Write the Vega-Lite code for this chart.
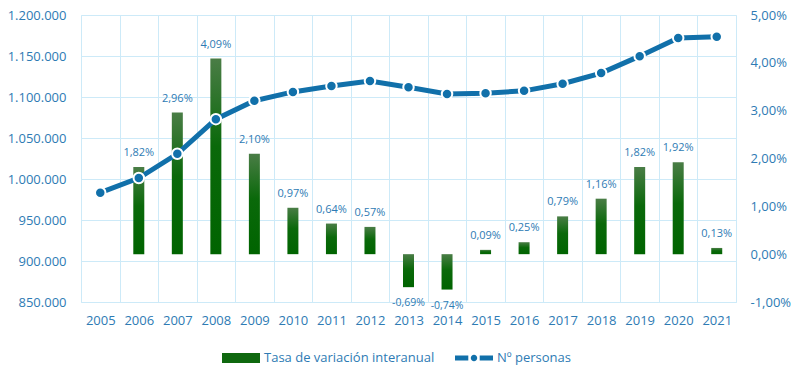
{
  "$schema": "https://vega.github.io/schema/vega-lite/v6.json",
  "width": 655,
  "height": 287,
  "autosize": {"type": "none"},
  "padding": {"left": 81, "top": 15, "right": 60, "bottom": 65},
  "config": {
    "locale": {"number": {"decimal": ",", "thousands": ".", "grouping": [3], "currency": ["", " €"]}},
    "view": {"stroke": null},
    "font": "Open Sans",
    "axis": {
      "labelFont": "Open Sans",
      "labelFontSize": 13,
      "labelColor": "#2e7bb4",
      "gridColor": "#cdeaf8",
      "gridWidth": 1,
      "domainColor": "#cdeaf8",
      "domainWidth": 1,
      "ticks": false,
      "title": null
    },
    "text": {"font": "Open Sans", "fontSize": 11, "color": "#2e7bb4"}
  },
  "data": {
    "values": [
      {"year": "2005", "personas": 983300, "tasa": null},
      {"year": "2006", "personas": 1001200, "tasa": 0.0182},
      {"year": "2007", "personas": 1030800, "tasa": 0.0296},
      {"year": "2008", "personas": 1073000, "tasa": 0.0409},
      {"year": "2009", "personas": 1095500, "tasa": 0.0210},
      {"year": "2010", "personas": 1106200, "tasa": 0.0097},
      {"year": "2011", "personas": 1113300, "tasa": 0.0064},
      {"year": "2012", "personas": 1119600, "tasa": 0.0057},
      {"year": "2013", "personas": 1111900, "tasa": -0.0069},
      {"year": "2014", "personas": 1103700, "tasa": -0.0074},
      {"year": "2015", "personas": 1104700, "tasa": 0.0009},
      {"year": "2016", "personas": 1107500, "tasa": 0.0025},
      {"year": "2017", "personas": 1116200, "tasa": 0.0079},
      {"year": "2018", "personas": 1129200, "tasa": 0.0116},
      {"year": "2019", "personas": 1149800, "tasa": 0.0182},
      {"year": "2020", "personas": 1171900, "tasa": 0.0192},
      {"year": "2021", "personas": 1173400, "tasa": 0.0013}
    ]
  },
  "encoding": {
    "x": {
      "field": "year",
      "type": "ordinal",
      "scale": {"paddingInner": 0, "paddingOuter": 0},
      "axis": {
        "title": null,
        "labelAngle": 0,
        "tickBand": "extent",
        "grid": true,
        "domain": true,
        "labelPadding": 12
      }
    }
  },
  "layer": [
    {
      "transform": [
        {"filter": "datum.tasa != null"},
        {"calculate": "replace(format(datum.tasa, '.2%'), '\u2212', '-')", "as": "etiqueta"}
      ],
      "encoding": {
        "y": {
          "field": "tasa",
          "type": "quantitative",
          "scale": {"domain": [-0.01, 0.05], "nice": false, "zero": true},
          "axis": {
            "orient": "right",
            "labelExpr": "replace(format(datum.value, '.2%'), '\u2212', '-')",
            "values": [-0.01, 0, 0.01, 0.02, 0.03, 0.04, 0.05],
            "grid": false,
            "domain": true,
            "labelPadding": 14,
            "title": null
          }
        }
      },
      "layer": [
        {
          "mark": {
            "type": "bar",
            "size": 11,
            "color": {
              "gradient": "linear",
              "x1": 0, "y1": 0, "x2": 0, "y2": 1,
              "stops": [
                {"offset": 0, "color": "#4a7d46"},
                {"offset": 0.45, "color": "#0a690a"},
                {"offset": 1, "color": "#006400"}
              ]
            }
          }
        },
        {
          "transform": [{"filter": "datum.tasa >= 0"}],
          "mark": {"type": "text", "baseline": "bottom", "dy": -9},
          "encoding": {"text": {"field": "etiqueta", "type": "nominal"}}
        },
        {
          "transform": [{"filter": "datum.tasa < 0"}],
          "mark": {"type": "text", "baseline": "top", "dy": 11, "fontSize": 10.5},
          "encoding": {"text": {"field": "etiqueta", "type": "nominal"}}
        }
      ]
    },
    {
      "layer": [
        {
          "mark": {
            "type": "line",
            "color": "#1170aa",
            "strokeWidth": 5,
            "point": {"filled": true, "size": 110, "color": "#1170aa", "stroke": "white", "strokeWidth": 2}
          },
          "encoding": {
            "y": {
              "field": "personas",
              "type": "quantitative",
              "scale": {"domain": [850000, 1200000], "nice": false, "zero": false},
              "axis": {
                "orient": "left",
                "format": ",.0f",
                "values": [850000, 900000, 950000, 1000000, 1050000, 1100000, 1150000, 1200000],
                "grid": true,
                "domain": true,
                "labelPadding": 15,
                "title": null
              }
            }
          }
        },
        {
          "data": {
            "values": [
              {"year": "2005", "serie": "Tasa de variación interanual"},
              {"year": "2005", "serie": "Nº personas"}
            ]
          },
          "mark": {"type": "point", "filled": true, "clip": true, "strokeWidth": 0, "opacity": 1},
          "encoding": {
            "y": {"datum": 0},
            "color": {
              "field": "serie",
              "type": "nominal",
              "scale": {
                "domain": ["Tasa de variación interanual", "Nº personas"],
                "range": ["#0f680f", "#1170aa"]
              },
              "legend": {
                "title": null,
                "orient": "none",
                "legendX": 141,
                "legendY": 324,
                "direction": "horizontal",
                "symbolSize": 1444,
                "symbolStrokeWidth": 0,
                "symbolOpacity": 1,
                "labelFont": "Open Sans",
                "labelFontSize": 13,
                "labelColor": "#2e7bb4",
                "labelOffset": 4,
                "labelLimit": 0,
                "columnPadding": 20,
                "padding": 0
              }
            },
            "shape": {
              "field": "serie",
              "type": "nominal",
              "scale": {
                "domain": ["Tasa de variación interanual", "Nº personas"],
                "range": [
                  "M-1,-0.26H1V0.26H-1Z",
                  "M-1,-0.13H-0.3V0.13H-1Z M0.3,-0.13H1V0.13H0.3Z M0.17,0A0.17,0.17 0 1,1 -0.17,0A0.17,0.17 0 1,1 0.17,0Z"
                ]
              }
            }
          }
        }
      ]
    }
  ],
  "resolve": {"scale": {"y": "independent"}}
}
